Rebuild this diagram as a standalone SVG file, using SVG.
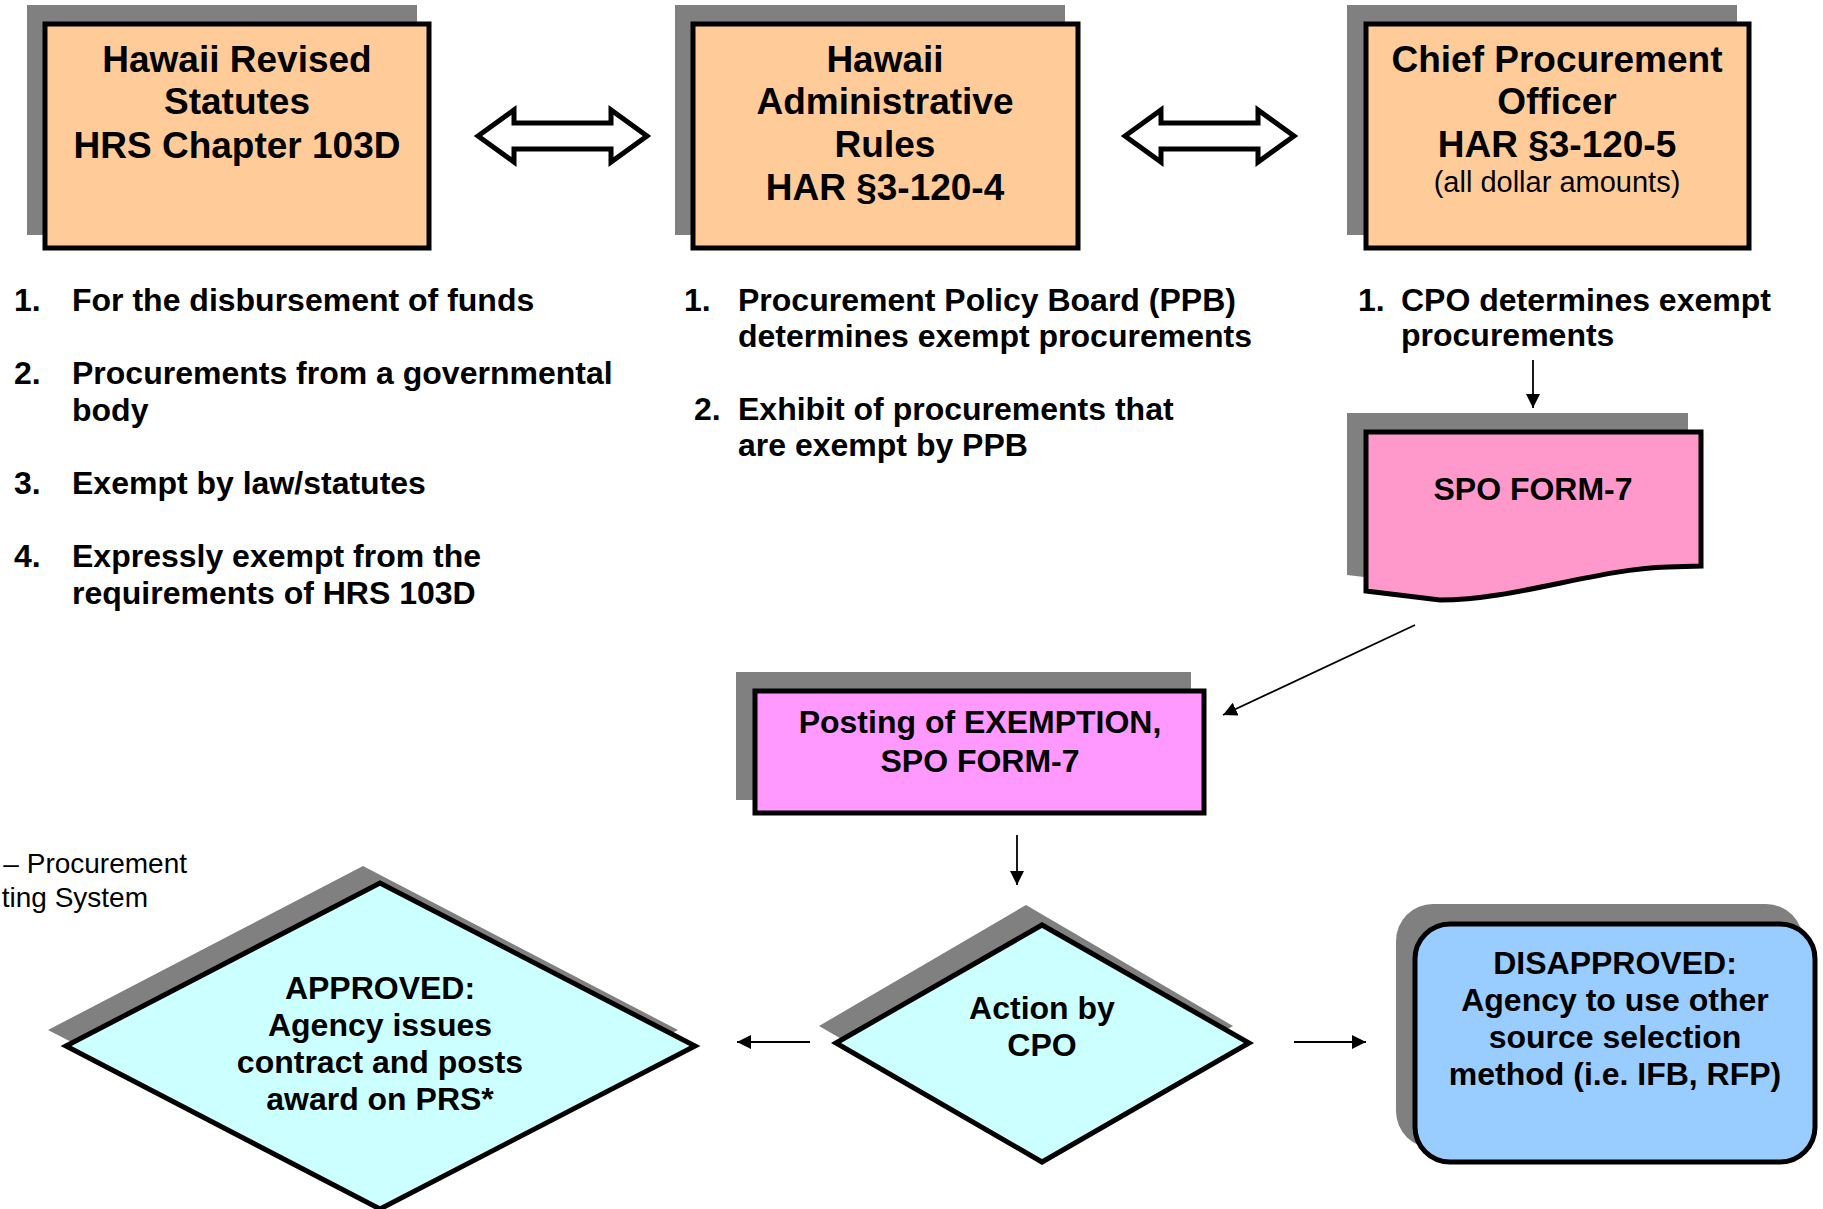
<svg xmlns="http://www.w3.org/2000/svg" width="1823" height="1209" viewBox="0 0 1823 1209">
<style>
text{font-family:"Liberation Sans",Arial,sans-serif;fill:#000}
.t{font-size:37px;font-weight:bold;text-anchor:middle}
.l{font-size:32px;font-weight:bold}
.c{font-size:32px;font-weight:bold;text-anchor:middle}
.sh{fill:#808080}
.bd{stroke:#000;stroke-width:5;stroke-linejoin:miter}
.or{fill:#FFCC99}
.dbl{fill:#fff;stroke:#000;stroke-width:5;stroke-linejoin:miter}
.ln{stroke:#000;stroke-width:1.8;fill:none}
</style>
<defs>
<marker id="ah" viewBox="0 0 14 14" refX="14" refY="7" markerWidth="14" markerHeight="14" markerUnits="userSpaceOnUse" orient="auto">
<path d="M0,0 L14,7 L0,14 Z" fill="#000"/>
</marker>
</defs>
<rect width="1823" height="1209" fill="#fff"/>

<g id="hrs">
<rect class="sh" x="27" y="5" width="390" height="230"/>
<rect class="or bd" x="45" y="24" width="384" height="224"/>
<text class="t" x="237" y="72">Hawaii Revised</text>
<text class="t" x="237" y="114">Statutes</text>
<text class="t" x="237" y="158">HRS Chapter 103D</text>
</g>

<g id="har">
<rect class="sh" x="675" y="5" width="390" height="230"/>
<rect class="or bd" x="693" y="24" width="385" height="224"/>
<text class="t" x="885" y="72">Hawaii</text>
<text class="t" x="885" y="114">Administrative</text>
<text class="t" x="885" y="157">Rules</text>
<text class="t" x="885" y="200">HAR §3-120-4</text>
</g>

<g id="cpo">
<rect class="sh" x="1347" y="5" width="390" height="230"/>
<rect class="or bd" x="1366" y="24" width="383" height="224"/>
<text class="t" x="1557" y="72">Chief Procurement</text>
<text class="t" x="1557" y="114">Officer</text>
<text class="t" x="1557" y="157">HAR §3-120-5</text>
<text x="1557" y="192" style="font-size:29px;text-anchor:middle">(all dollar amounts)</text>
</g>

<g id="hrs-list">
<text class="l" x="14" y="311">1.</text><text class="l" x="72" y="311">For the disbursement of funds</text>
<text class="l" x="14" y="384">2.</text><text class="l" x="72" y="384">Procurements from a governmental</text>
<text class="l" x="72" y="421">body</text>
<text class="l" x="14" y="494">3.</text><text class="l" x="72" y="494">Exempt by law/statutes</text>
<text class="l" x="14" y="567">4.</text><text class="l" x="72" y="567">Expressly exempt from the</text>
<text class="l" x="72" y="604">requirements of HRS 103D</text>
</g>

<g id="har-list">
<text class="l" x="684" y="311">1.</text><text class="l" x="738" y="311">Procurement Policy Board (PPB)</text>
<text class="l" x="738" y="347">determines exempt procurements</text>
<text class="l" x="694" y="420">2.</text><text class="l" x="738" y="420">Exhibit of procurements that</text>
<text class="l" x="738" y="456">are exempt by PPB</text>
</g>

<g id="cpo-list">
<text class="l" x="1358" y="311">1.</text><text class="l" x="1401" y="311">CPO determines exempt</text>
<text class="l" x="1401" y="346">procurements</text>
</g>

<g id="spo-form">
<path class="sh" d="M1347,413 H1688 V552 L1654,553 C1580,556 1500,584 1424,584 L1347,575 Z"/>
<path fill="#FF99CC" class="bd" d="M1366,432 H1701 V566 L1668,567 C1595,569 1515,600 1440,600 L1366,591 Z"/>
<text class="c" x="1533" y="500">SPO FORM-7</text>
</g>

<g id="posting">
<rect class="sh" x="736" y="672" width="455" height="128"/>
<rect fill="#FF99FF" class="bd" x="755" y="691" width="449" height="122"/>
<text class="c" x="980" y="733">Posting of EXEMPTION,</text>
<text class="c" x="980" y="772">SPO FORM-7</text>
</g>

<g id="action">
<polygon class="sh" points="819,1026 1026,905 1233,1026 1026,1145"/>
<polygon fill="#CCFFFF" class="bd" points="836,1043 1042,925 1249,1043 1042,1162"/>
<text class="c" x="1042" y="1019">Action by</text>
<text class="c" x="1042" y="1056">CPO</text>
</g>

<g id="approved">
<polygon class="sh" points="48,1030 363,866 678,1030 363,1192"/>
<polygon fill="#CCFFFF" class="bd" points="66,1046 380,883 695,1046 380,1209"/>
<text class="c" x="380" y="999">APPROVED:</text>
<text class="c" x="380" y="1036">Agency issues</text>
<text class="c" x="380" y="1073">contract and posts</text>
<text class="c" x="380" y="1110">award on PRS*</text>
</g>

<g id="footnote">
<text x="187" y="873" style="font-size:28px;text-anchor:end">– Procurement</text>
<text x="148" y="907" style="font-size:28px;text-anchor:end">ting System</text>
</g>

<g id="disapproved">
<rect class="sh" x="1396" y="904" width="407" height="244" rx="37"/>
<rect fill="#99CCFF" class="bd" x="1415" y="924" width="400" height="238" rx="35"/>
<text class="c" x="1615" y="974">DISAPPROVED:</text>
<text class="c" x="1615" y="1011">Agency to use other</text>
<text class="c" x="1615" y="1048">source selection</text>
<text class="c" x="1615" y="1085">method (i.e. IFB, RFP)</text>
</g>

<g id="connectors">
<polygon class="dbl" points="478,136 514,110 514,123 611,123 611,110 647,136 611,162 611,149 514,149 514,162"/>
<polygon class="dbl" points="1125,136 1161,110 1161,123 1258,123 1258,110 1294,136 1258,162 1258,149 1161,149 1161,162"/>
<line class="ln" x1="1533" y1="360" x2="1533" y2="408" marker-end="url(#ah)"/>
<line class="ln" x1="1415" y1="625" x2="1223" y2="715" marker-end="url(#ah)"/>
<line class="ln" x1="1017" y1="835" x2="1017" y2="885" marker-end="url(#ah)"/>
<line class="ln" x1="810" y1="1042" x2="737" y2="1042" marker-end="url(#ah)"/>
<line class="ln" x1="1294" y1="1042" x2="1366" y2="1042" marker-end="url(#ah)"/>
</g>
</svg>
